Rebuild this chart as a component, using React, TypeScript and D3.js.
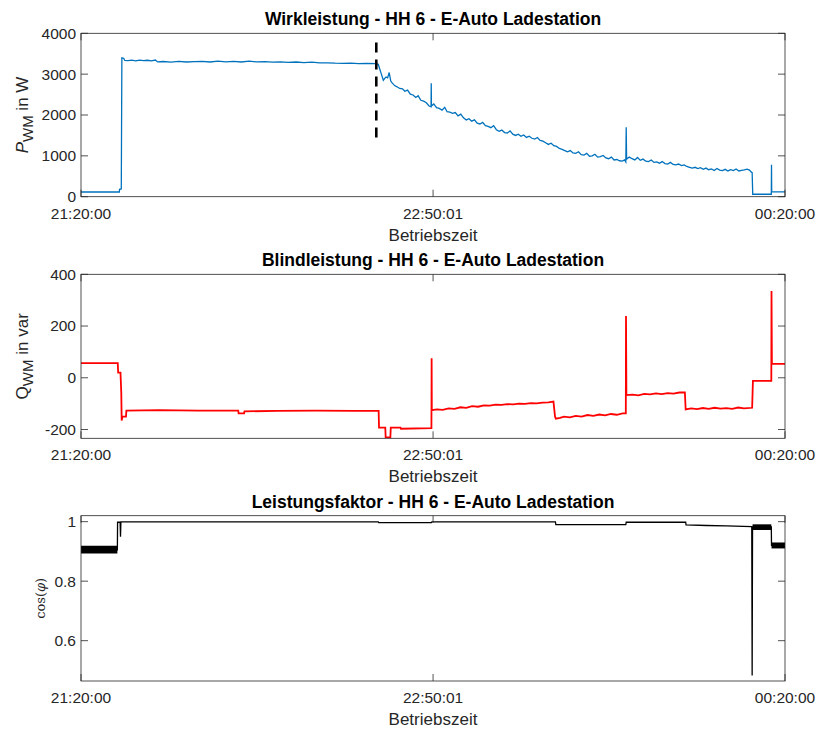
import React from "react";
import * as d3 from "d3";

// Time axis: minutes since 21:20:00
const timeTicks = [0, 90 + 1 / 60, 180];
const timeTickLabels = ["21:20:00", "22:50:01", "00:20:00"];

// Active power P_WM [W]: [minute, value]
const powerP: [number, number][] = [
  [0, 115], [9.8, 115], [9.85, 180], [10.3, 190], [10.45, 3400], [10.9, 3390], [11.2, 3335],
  [12, 3330], [13, 3345], [14, 3325], [15, 3345], [16, 3330], [17, 3340], [18, 3325], [19, 3345],
  [19.6, 3300], [21, 3310], [23, 3295], [25, 3312], [27, 3298], [29, 3308], [31, 3314], [33, 3298],
  [35, 3318], [37, 3302], [39, 3314], [41, 3298], [43, 3318], [45, 3300], [47, 3308], [49, 3292],
  [51, 3302], [53, 3288], [55, 3298], [57, 3283], [59, 3292], [61, 3278], [63, 3276], [65, 3268],
  [67, 3266], [69, 3272], [71, 3258], [73, 3266], [75.5, 3260], [76, 3240], [76.4, 3120], [76.8, 3000],
  [77.3, 2850], [77.6, 2890], [78, 2930], [78.4, 2910], [78.8, 3040], [79.2, 2830], [79.6, 2780],
  [80.2, 2720], [80.8, 2690], [81.5, 2650], [82.2, 2640], [82.8, 2580], [83.5, 2610], [84.2, 2510],
  [84.9, 2490], [85.6, 2430], [86.2, 2470], [86.9, 2360], [87.6, 2340], [88.3, 2300], [89, 2220],
  [89.5, 2200], [89.55, 2780], [89.6, 2220], [90.2, 2270], [90.9, 2180], [91.6, 2160], [92.3, 2120],
  [93, 2190], [93.6, 2080], [94.3, 2070], [95, 2040], [95.7, 2060], [96.4, 1980], [97.1, 2020],
  [97.8, 1930], [98.5, 1880], [99.2, 1910], [99.9, 1850], [100.6, 1880], [101.3, 1800], [102, 1780],
  [102.7, 1820], [103.4, 1740], [104.1, 1720], [104.8, 1690], [105.5, 1740], [106.2, 1640],
  [106.9, 1600], [107.6, 1630], [108.3, 1570], [109, 1560], [109.7, 1610], [110.4, 1530],
  [111.1, 1500], [111.8, 1530], [112.5, 1480], [113.2, 1510], [113.9, 1450], [114.6, 1480],
  [115.3, 1430], [116, 1410], [116.7, 1450], [117.4, 1380], [118.1, 1360], [118.8, 1320],
  [119.5, 1280], [120.2, 1310], [120.9, 1250], [121.6, 1230], [122.3, 1180], [123, 1160],
  [123.7, 1130], [124.4, 1100], [125.1, 1130], [125.8, 1070], [126.5, 1060], [127.2, 1100],
  [127.9, 1030], [128.6, 1020], [129.3, 1060], [130, 990], [130.7, 1000], [131.4, 1040], [132.1, 970],
  [132.8, 980], [133.5, 1010], [134.2, 950], [134.9, 930], [135.6, 970], [136.3, 900], [137, 910],
  [137.7, 880], [138.4, 870], [139, 900], [139.3, 850], [139.4, 1700], [139.5, 920], [140.2, 970],
  [140.9, 930], [141.6, 900], [142.3, 960], [143, 890], [143.7, 920], [144.4, 870], [145.1, 860],
  [145.8, 900], [146.5, 840], [147.2, 850], [147.9, 820], [148.6, 860], [149.3, 810], [150, 800],
  [150.7, 840], [151.4, 790], [152.1, 780], [152.8, 800], [153.5, 760], [154.2, 780], [154.9, 740],
  [155.6, 720], [156.3, 700], [157, 720], [157.7, 690], [158.4, 710], [159.1, 670], [159.8, 700],
  [160.5, 660], [161.2, 680], [161.9, 640], [162.6, 690], [163.3, 650], [164, 640], [164.7, 670],
  [165.4, 630], [166.1, 660], [166.8, 640], [167.5, 680], [168.2, 630], [168.9, 645], [169.6, 655],
  [170.3, 675], [170.9, 650], [171.4, 600], [171.6, 590], [171.75, 60], [176.5, 60], [176.55, 780],
  [176.6, 120], [180, 120],
];

// Start of the power reduction, marked by a dashed line: [minute, from W, to W]
const markerP: [number, number, number] = [75.5, 1450, 3800];

// Reactive power Q_WM [var]: [minute, value]
const reactiveQ: [number, number][] = [
  [0, 57], [9.4, 57], [9.5, 20], [10.1, 20], [10.3, -60], [10.4, -165], [10.6, -150], [11.5, -150],
  [11.6, -127], [20, -125], [30, -127], [40.2, -127], [40.3, -138], [41.7, -138], [41.8, -130],
  [50, -128], [60, -127], [70, -128], [76.1, -128], [76.2, -193], [77.8, -193], [77.9, -231],
  [79.1, -231], [79.2, -193], [81.7, -193], [81.8, -197], [89.6, -195], [89.65, 75], [89.7, -125],
  [91, -122], [92.5, -124], [94, -118], [95.5, -120], [97, -114], [98.5, -116], [100, -110],
  [101.5, -112], [103, -107], [104.5, -108], [106, -104], [107.5, -105], [109, -102], [110.5, -103],
  [112, -100], [113.5, -101], [115, -98], [116.5, -99], [118, -96], [119.5, -95], [120.8, -92],
  [121.2, -150], [121.4, -158], [122.5, -155], [123.5, -150], [125, -153], [126.5, -147], [128, -150],
  [129.5, -144], [131, -147], [132.5, -142], [134, -145], [135.5, -140], [137, -143], [138.5, -138],
  [139.3, -138], [139.35, 239], [139.45, -67], [141, -65], [142.5, -68], [144, -62], [145.5, -64],
  [147, -60], [148.5, -63], [150, -59], [151.5, -61], [153, -57], [154.4, -57], [154.6, -122],
  [156, -118], [157.5, -121], [159, -117], [160.5, -120], [162, -116], [163.5, -119], [165, -117],
  [166.5, -120], [168, -115], [169.5, -118], [171.6, -116], [171.8, -12], [176.5, -12], [176.55, 335],
  [176.65, 54], [180, 54],
];

// Power factor cos(phi): [minute, value]
const cosPhi: [number, number][] = [
  [0, 0.905], [9.3, 0.905], [9.35, 0.998], [10.0, 0.998], [10.1, 0.949], [10.2, 0.999], [76, 0.999],
  [76.1, 0.997], [89.6, 0.997], [89.7, 0.999], [121.3, 0.999], [121.4, 0.990], [139.3, 0.990],
  [139.4, 0.998], [154.6, 0.998], [154.7, 0.989], [160, 0.987], [165, 0.986], [171.5, 0.983],
  [171.6, 0.483], [171.7, 0.982], [176.5, 0.982], [176.55, 0.92], [180, 0.92],
];

// Rapidly fluctuating intervals of cos(phi): [from minute, to minute, low, high]
const cosPhiBands: [number, number, number, number][] = [
  [0, 9.3, 0.893, 0.919],
  [171.7, 176.5, 0.972, 0.991],
  [176.55, 180, 0.91, 0.93],
];

const powerTicks = [0, 1000, 2000, 3000, 4000];
const reactiveTicks = [-200, 0, 200, 400];
const cosTicks = [0.6, 0.8, 1];

const W = 818;
const H = 729;
const LEFT = 81;
const RIGHT = 785;
const AXIS = "#262626";
const FONT = "'Liberation Sans', Arial, Helvetica, sans-serif";
const TICK_LEN = 7;
const TICK_FONT = 15.5;
const LABEL_FONT = 17;
const TITLE_FONT = 17.5;

const x = d3.scaleLinear().domain([0, 180]).range([LEFT, RIGHT]);

type PanelProps = {
  top: number;
  bottom: number;
  domain: [number, number];
  yTicks: number[];
  title: string;
  ylabel: React.ReactNode;
  children: (y: d3.ScaleLinear<number, number>) => React.ReactNode;
};

function Panel({ top, bottom, domain, yTicks, title, ylabel, children }: PanelProps) {
  const y = d3.scaleLinear().domain(domain).range([bottom, top]);
  const clipId = `clip-${Math.round(top)}`;
  return (
    <g>
      <defs>
        <clipPath id={clipId}>
          <rect x={LEFT} y={top} width={RIGHT - LEFT} height={bottom - top} />
        </clipPath>
      </defs>
      <rect x={LEFT} y={top} width={RIGHT - LEFT} height={bottom - top} fill="#fff" />
      <g clipPath={`url(#${clipId})`}>{children(y)}</g>
      <rect
        x={LEFT}
        y={top}
        width={RIGHT - LEFT}
        height={bottom - top}
        fill="none"
        stroke={AXIS}
        strokeWidth={0.8}
      />
      {timeTicks.map((t, i) => (
        <g key={`xt${i}`}>
          <line x1={x(t)} x2={x(t)} y1={bottom} y2={bottom - TICK_LEN} stroke={AXIS} strokeWidth={0.8} />
          <line x1={x(t)} x2={x(t)} y1={top} y2={top + TICK_LEN} stroke={AXIS} strokeWidth={0.8} />
          <text
            x={x(t)}
            y={bottom + 22}
            textAnchor="middle"
            fontFamily={FONT}
            fontSize={TICK_FONT}
            fill={AXIS}
          >
            {timeTickLabels[i]}
          </text>
        </g>
      ))}
      {yTicks.map((v) => (
        <g key={`yt${v}`}>
          <line x1={LEFT} x2={LEFT + TICK_LEN} y1={y(v)} y2={y(v)} stroke={AXIS} strokeWidth={0.8} />
          <line x1={RIGHT} x2={RIGHT - TICK_LEN} y1={y(v)} y2={y(v)} stroke={AXIS} strokeWidth={0.8} />
          <text
            x={LEFT - 5}
            y={y(v)}
            dy="0.35em"
            textAnchor="end"
            fontFamily={FONT}
            fontSize={TICK_FONT}
            fill={AXIS}
          >
            {String(v)}
          </text>
        </g>
      ))}
      <text
        x={(LEFT + RIGHT) / 2}
        y={bottom + 44}
        textAnchor="middle"
        fontFamily={FONT}
        fontSize={LABEL_FONT}
        fill={AXIS}
      >
        Betriebszeit
      </text>
      <text
        x={(LEFT + RIGHT) / 2}
        y={top - 8}
        textAnchor="middle"
        fontFamily={FONT}
        fontSize={TITLE_FONT}
        fontWeight="bold"
        fill="#000"
      >
        {title}
      </text>
      {ylabel}
    </g>
  );
}

export default function App() {
  const lineOf = (y: d3.ScaleLinear<number, number>) =>
    d3
      .line<[number, number]>()
      .x((d) => x(d[0]))
      .y((d) => y(d[1]));

  const p1 = { top: 33.3, bottom: 196.7 };
  const p2 = { top: 274.3, bottom: 438.3 };
  const p3 = { top: 515.7, bottom: 681 };

  return (
    <svg width={W} height={H} style={{ display: "block", position: "absolute", left: 0, top: 0 }}>
      <rect width={W} height={H} fill="#fff" />

      <Panel
        top={p1.top}
        bottom={p1.bottom}
        domain={[0, 4000]}
        yTicks={powerTicks}
        title="Wirkleistung - HH 6 - E-Auto Ladestation"
        ylabel={
          <text
            transform={`translate(28, ${(p1.top + p1.bottom) / 2}) rotate(-90)`}
            textAnchor="middle"
            fontFamily={FONT}
            fontSize={17}
            fill={AXIS}
          >
            <tspan fontStyle="italic">P</tspan>
            <tspan dy={5} fontSize={15}>WM</tspan>
            <tspan dy={-5}> in W</tspan>
          </text>
        }
      >
        {(y) => (
          <>
            <path d={lineOf(y)(powerP) ?? ""} fill="none" stroke="#0072BD" strokeWidth={1.3} />
            <line
              x1={x(markerP[0])}
              x2={x(markerP[0])}
              y1={y(markerP[1])}
              y2={y(markerP[2])}
              stroke="#000"
              strokeWidth={2.6}
              strokeDasharray="10,7"
            />
          </>
        )}
      </Panel>

      <Panel
        top={p2.top}
        bottom={p2.bottom}
        domain={[-234, 400]}
        yTicks={reactiveTicks}
        title="Blindleistung - HH 6 - E-Auto Ladestation"
        ylabel={
          <text
            transform={`translate(28, ${(p2.top + p2.bottom) / 2}) rotate(-90)`}
            textAnchor="middle"
            fontFamily={FONT}
            fontSize={17}
            fill={AXIS}
          >
            <tspan>Q</tspan>
            <tspan dy={5} fontSize={15}>WM</tspan>
            <tspan dy={-5}> in var</tspan>
          </text>
        }
      >
        {(y) => (
          <path d={lineOf(y)(reactiveQ) ?? ""} fill="none" stroke="#FF0000" strokeWidth={1.8} />
        )}
      </Panel>

      <Panel
        top={p3.top}
        bottom={p3.bottom}
        domain={[0.4645, 1.02]}
        yTicks={cosTicks}
        title="Leistungsfaktor - HH 6 - E-Auto Ladestation"
        ylabel={
          <text
            transform={`translate(45, ${(p3.top + p3.bottom) / 2}) rotate(-90)`}
            textAnchor="middle"
            fontFamily="'DejaVu Serif', 'Liberation Serif', serif"
            fontSize={13}
            fill={AXIS}
          >
            cos(<tspan fontStyle="italic">φ</tspan>)
          </text>
        }
      >
        {(y) => (
          <>
            {cosPhiBands.map((b, i) => (
              <rect
                key={i}
                x={x(b[0])}
                y={y(b[3])}
                width={x(b[1]) - x(b[0])}
                height={y(b[2]) - y(b[3])}
                fill="#000"
              />
            ))}
            <path d={lineOf(y)(cosPhi) ?? ""} fill="none" stroke="#000" strokeWidth={1.3} />
          </>
        )}
      </Panel>
    </svg>
  );
}
